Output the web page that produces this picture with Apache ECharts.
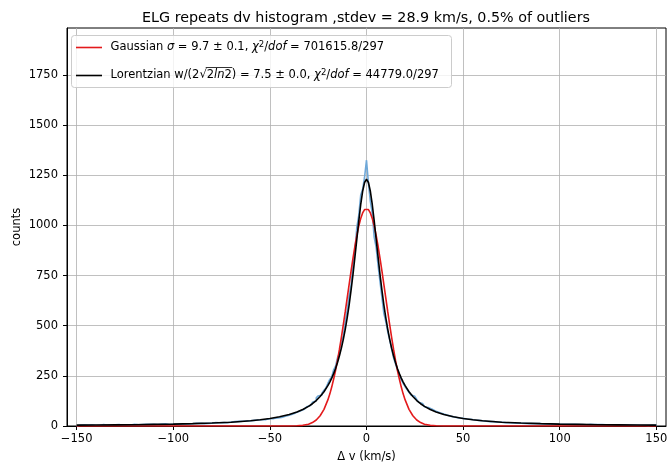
<!DOCTYPE html>
<html>
<head>
<meta charset="utf-8">
<script src="https://cdn.jsdelivr.net/npm/echarts@6/dist/echarts.min.js"></script>
<style>html,body{margin:0;padding:0;background:#fff}#c{width:668px;height:464px}</style>
</head>
<body>
<div id="c"></div>
<script>
const titleText = 'ELG repeats dv histogram ,stdev = 28.9 km/s, 0.5% of outliers';
const xTicks = [-150, -100, -50, 0, 50, 100, 150];
const yTicks = [0, 250, 500, 750, 1000, 1250, 1500, 1750];
const binStart = -150;
const binWidth = 1;
const counts = [
  3,5,4,6,4,5,3,6,5,4, 6,4,5,7,5,4,6,5,7,6, 5,7,6,4,8,6,7,5,6,8,
  7,6,9,7,5,8,7,9,6,8, 9,7,8,10,8,11,9,7,10,9, 11,9,12,10,8,11,13,10,12,11,
  12,14,11,13,15,12,14,13,16,14, 15,17,14,16,18,17,19,16,18,20, 19,22,20,23,21,24,22,25,23,26,
  25,28,27,30,29,31,33,32,35,36, 38,37,41,40,44,43,47,49,50,54, 57,60,63,68,72,76,80,85,92,96,
  102,110,118,126,140,150,155,165,178,190, 212,232,245,280,298,340,362,420,450,520,
  575,650,700,810,870,990,1050,1150,1180,1240,
  1325,1210,1120,1060,940,890,800,720,640,560, 520,470,430,385,340,310,280,255,230,212,
  196,182,168,155,148,140,132,118,112,104, 96,92,85,84,76,73,70,66,62,60,
  55,54,50,48,47,44,43,40,41,38, 36,35,33,34,31,30,29,28,27,26,
  25,24,24,22,21,22,20,19,20,19, 18,17,18,16,17,15,16,14,15,14,
  14,13,14,12,13,12,11,12,11,12, 11,10,11,10,9,11,10,9,10,9,
  9,8,10,8,9,8,7,9,8,7, 8,7,8,6,7,8,6,7,6,7,
  6,7,5,6,7,5,6,6,5,6, 5,6,5,6,4,5,6,5,4,5, 5,4,5,4,5,3,4,5,4,4
];
const fitX = [
  -150,-140,-130,-120,-110,-100,-90,-80,-70,-60,-55,-50,-45,-40,-36,-33,-30,-28,-26,-24,-22,
  -20,-19,-18,-17,-16,-15,-14,-13,-12,-11,-10,-9,-8,-7,-6,-5,-4,-3,-2,-1,0,
  1,2,3,4,5,6,7,8,9,10,11,12,13,14,15,16,17,18,19,20,
  22,24,26,28,30,33,36,40,45,50,55,60,70,80,90,100,110,120,130,140,150
];
const gaussY = [
  0,0,0,0,0,0,0,0,0,0,0,0,0,0.2,1.1,3.3,9.1,17,30,51,83,
  130,159,194,234,278,328,383,442,505,570,638,705,772,836,896,950,997,1034,1062,1079,1085,
  1079,1062,1034,997,950,896,836,772,705,638,570,505,442,383,328,278,234,194,159,130,
  83,51,30,17,9.1,3.3,1.1,0.2,0,0,0,0,0,0,0,0,0,0,0,0,0
];
const lorentzY = [
  4.2,4.9,5.7,6.6,7.9,9.5,12,15,19,26,31,37,46,57,70,82,98,111,127,147,171,
  201,219,239,261,287,317,350,388,432,482,539,603,676,755,842,931,1021,1103,1170,1214,1230,
  1214,1170,1103,1021,931,842,755,676,603,539,482,432,388,350,317,287,261,239,219,201,
  171,147,127,111,98,82,70,57,46,37,31,26,19,15,12,9.5,7.9,6.6,5.7,4.9,4.2
];

const histData = [[binStart, 0]];
counts.forEach((v, i) => histData.push([binStart + i * binWidth, v]));
histData.push([binStart + counts.length * binWidth, counts[counts.length - 1]]);
histData.push([binStart + counts.length * binWidth, 0]);
const gaussData = fitX.map((x, i) => [x, gaussY[i]]);
const lorentzData = fitX.map((x, i) => [x, lorentzY[i]]);

const FONT = 'DejaVu Sans';
const LFS = 11.5;
const mctx = document.createElement('canvas').getContext('2d');
mctx.font = LFS + 'px "' + FONT + '"';
const preW = mctx.measureText('Lorentzian w/(2\u221A').width;
const w2 = mctx.measureText('2').width;
mctx.font = 'italic ' + LFS + 'px "' + FONT + '"';
const wln = mctx.measureText('ln').width;
const legX = 110.5;
const ovX1 = legX + preW - 1;
const ovX2 = legX + preW + 2 * w2 + wln + 0.5;

const chart = echarts.init(document.getElementById('c'), null, {renderer: 'canvas'});
const axisCommon = {
  axisLine: {show: true, onZero: false, lineStyle: {color: '#000', width: 1}},
  axisTick: {show: true, inside: false, length: 4, lineStyle: {color: '#000', width: 1}},
  splitLine: {show: true, lineStyle: {color: '#b0b0b0', width: 0.8}},
  nameTextStyle: {fontFamily: FONT, fontSize: 11.5, color: '#000'},
  nameMoveOverlap: false
};
const rich = {
  i: {fontFamily: FONT, fontSize: LFS, fontStyle: 'italic', fill: '#000'},
  n: {fontFamily: FONT, fontSize: LFS, fill: '#000'},
  s: {fontFamily: FONT, fontSize: 8.5, fill: '#000', verticalAlign: 'bottom', padding: [0, 0, 6, 0]}
};
chart.setOption({
  animation: false,
  backgroundColor: '#fff',
  title: {
    text: titleText, left: 361, top: 6, textAlign: 'center',
    textStyle: {fontFamily: FONT, fontSize: 14.3, fontWeight: 'normal', color: '#000'}
  },
  grid: {left: 67, right: 2, top: 28, bottom: 38, show: true, borderColor: '#000', borderWidth: 1,
    backgroundColor: 'transparent', containLabel: false, outerBoundsMode: 'none'},
  xAxis: Object.assign({}, axisCommon, {
    type: 'value', min: -155, max: 155,
    name: 'Δ v (km/s)', nameLocation: 'middle', nameGap: 25,
    axisTick: Object.assign({}, axisCommon.axisTick, {customValues: xTicks}),
    axisLabel: {customValues: xTicks, fontFamily: FONT, fontSize: 11.5, color: '#000', margin: 7,
      formatter: v => (v < 0 ? '\u2212' + Math.abs(v) : String(v))},
    splitLine: Object.assign({}, axisCommon.splitLine)
  }),
  yAxis: Object.assign({}, axisCommon, {
    type: 'value', min: 0, max: 1984,
    name: 'counts', nameLocation: 'middle', nameGap: 44, nameRotate: 90,
    axisTick: Object.assign({}, axisCommon.axisTick, {customValues: yTicks}),
    axisLabel: {customValues: yTicks, fontFamily: FONT, fontSize: 11.5, color: '#000', margin: 9,
      formatter: v => String(v)}
  }),
  series: [
    {type: 'line', name: 'hist', data: histData, step: 'end', symbol: 'none',
      lineStyle: {color: '#6fa8d8', width: 1.6}, z: 2},
    {type: 'line', name: 'Gaussian', data: gaussData, symbol: 'none', smooth: false,
      lineStyle: {color: '#e31a1c', width: 1.6}, z: 3},
    {type: 'line', name: 'Lorentzian', data: lorentzData, symbol: 'none', smooth: false,
      lineStyle: {color: '#000', width: 1.6}, z: 4}
  ],
  graphic: [
    {type: 'rect', shape: {x: 71.5, y: 35.5, width: 380, height: 52, r: 3},
      style: {fill: 'rgba(255,255,255,0.8)', stroke: '#cccccc', lineWidth: 1}, z: 100},
    {type: 'line', shape: {x1: 76, y1: 47.5, x2: 102, y2: 47.5}, style: {stroke: '#e31a1c', lineWidth: 1.6}, z: 101},
    {type: 'line', shape: {x1: 76, y1: 75.5, x2: 102, y2: 75.5}, style: {stroke: '#000', lineWidth: 1.6}, z: 101},
    {type: 'text', x: legX, y: 47.5, z: 101, style: {
      text: 'Gaussian {i|σ} = 9.7 ± 0.1, {i|χ}{s|2}/{i|dof} = 701615.8/297',
      fontFamily: FONT, fontSize: LFS, fill: '#000', verticalAlign: 'middle', rich: rich
    }},
    {type: 'text', x: legX, y: 75.5, z: 101, style: {
      text: 'Lorentzian w/(2√{n|2}{i|ln}{n|2}) = 7.5 ± 0.0, {i|χ}{s|2}/{i|dof} = 44779.0/297',
      fontFamily: FONT, fontSize: LFS, fill: '#000', verticalAlign: 'middle', rich: rich
    }},
    {type: 'line', shape: {x1: ovX1, y1: 67.5, x2: ovX2, y2: 67.5}, style: {stroke: '#000', lineWidth: 0.8}, z: 101}
  ]
});
</script>
</body>
</html>
